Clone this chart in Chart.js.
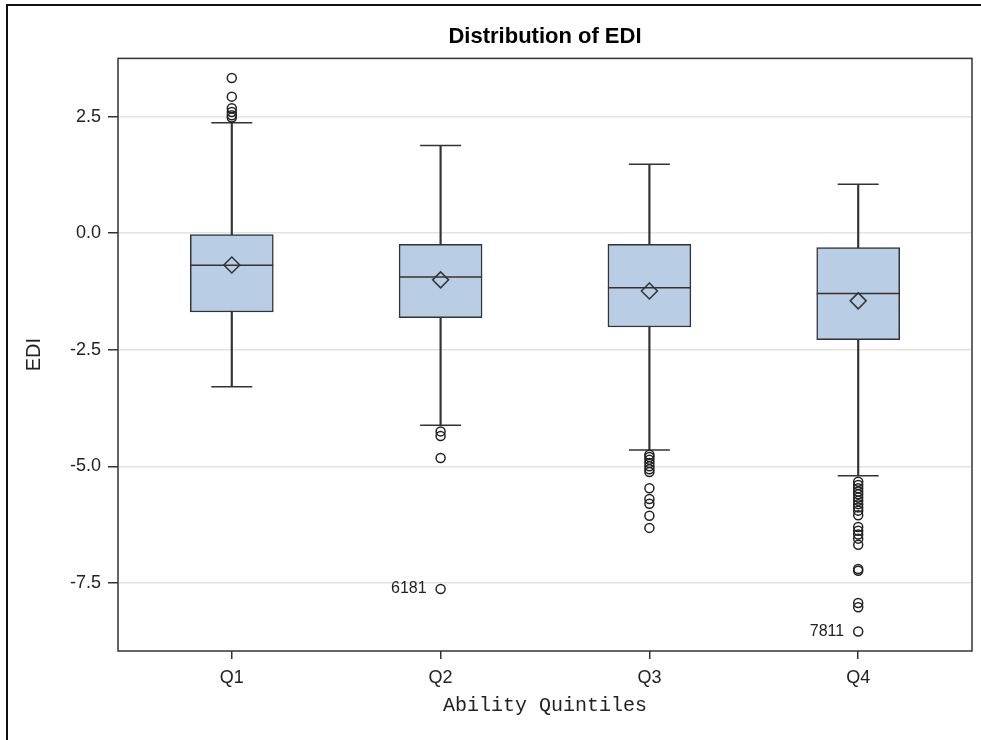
<!DOCTYPE html>
<html>
<head>
<meta charset="utf-8">
<script src="https://cdn.jsdelivr.net/npm/chart.js@4"></script>
<style>
  html, body { margin: 0; padding: 0; background: #fff; }
  #wrap { position: relative; width: 981px; height: 740px; overflow: hidden; }
  #frame { position: absolute; left: 6px; top: 4px; width: 2000px; height: 2000px;
           border-left: 2px solid #111; border-top: 2px solid #111; }
  canvas { position: absolute; left: 0; top: 0; }
</style>
</head>
<body>
<div id="wrap">
  <div id="frame"></div>
  <canvas id="myChart" width="981" height="740"></canvas>
</div>
<script>
const quintiles = ["Q1", "Q2", "Q3", "Q4"];

const whiskerLow  = [-3.29, -4.12, -4.65, -5.20];
const boxLow      = [-1.69, -1.81, -2.01, -2.28];
const medians     = [-0.685, -0.94, -1.17, -1.29];
const means       = [-0.68, -1.00, -1.24, -1.45];
const boxHigh     = [-0.03, -0.24, -0.24, -0.31];
const whiskerHigh = [2.37, 1.88, 1.48, 1.05];

const outliersQ1 = [3.33, 2.93, 2.68, 2.60, 2.53, 2.48];
const outliersQ2 = [-4.25, -4.35, -4.82, -7.63];
const outliersQ3 = [-4.75, -4.80, -4.86, -4.93, -5.00, -5.06, -5.12, -5.47, -5.70, -5.80, -6.06, -6.32];
const outliersQ4 = [-5.33, -5.40, -5.47, -5.54, -5.60, -5.67, -5.74, -5.81, -5.88, -5.95, -6.05,
                    -6.30, -6.38, -6.46, -6.55, -6.68, -7.20, -7.24, -7.93, -8.02, -8.54];

// labelled outliers (observation ids)
const labelQuint = [2, 4];
const labelValue = [-7.63, -8.54];
const labelText  = ["6181", "7811"];

const yTicks = [-7.5, -5.0, -2.5, 0.0, 2.5];

const font = 'Arial, "Liberation Sans", sans-serif';
const ink = '#333';
const boxFill = '#b9cde5';

const outlierPoints = [];
[outliersQ1, outliersQ2, outliersQ3, outliersQ4].forEach((arr, i) => {
  arr.forEach(v => outlierPoints.push({x: i + 1, y: v}));
});

const capPoints = [];
quintiles.forEach((q, i) => {
  capPoints.push({x: i + 1, y: whiskerLow[i]});
  capPoints.push({x: i + 1, y: whiskerHigh[i]});
});

const pointLabels = {
  id: 'pointLabels',
  afterDatasetsDraw(chart) {
    const {ctx, scales: {x, y}} = chart;
    ctx.save();
    ctx.font = '16px ' + font;
    ctx.fillStyle = '#222';
    ctx.textAlign = 'right';
    ctx.textBaseline = 'middle';
    labelText.forEach((t, i) => {
      ctx.fillText(t, x.getPixelForValue(labelQuint[i]) - 14, y.getPixelForValue(labelValue[i]));
    });
    ctx.restore();
  }
};

const plotFrame = {
  id: 'plotFrame',
  afterDraw(chart) {
    const {ctx, chartArea: a} = chart;
    ctx.save();
    ctx.strokeStyle = ink;
    ctx.lineWidth = 1.5;
    ctx.strokeRect(a.left, a.top, a.right - a.left, a.bottom - a.top);
    ctx.restore();
  }
};

const data = {
  datasets: [
    {
      type: 'bar',
      data: quintiles.map((q, i) => ({x: i + 1, y: [whiskerLow[i], whiskerHigh[i]]})),
      backgroundColor: ink,
      borderWidth: 0,
      barThickness: 1.5,
      grouped: false,
      order: 5
    },
    {
      type: 'bar',
      data: quintiles.map((q, i) => ({x: i + 1, y: [boxLow[i], boxHigh[i]]})),
      backgroundColor: boxFill,
      borderColor: ink,
      borderWidth: 1.5,
      borderSkipped: false,
      barThickness: 83,
      grouped: false,
      order: 4
    },
    {
      type: 'scatter',
      data: capPoints,
      pointStyle: 'line',
      pointRadius: 20.5,
      borderColor: ink,
      pointBorderWidth: 1.5,
      order: 3
    },
    {
      type: 'scatter',
      data: quintiles.map((q, i) => ({x: i + 1, y: medians[i]})),
      pointStyle: 'line',
      pointRadius: 41.5,
      borderColor: ink,
      pointBorderWidth: 1.5,
      order: 2
    },
    {
      type: 'scatter',
      data: quintiles.map((q, i) => ({x: i + 1, y: means[i]})),
      pointStyle: 'rectRot',
      pointRadius: 8,
      backgroundColor: 'rgba(0,0,0,0)',
      borderColor: ink,
      pointBorderWidth: 1.5,
      order: 1
    },
    {
      type: 'scatter',
      data: outlierPoints,
      pointStyle: 'circle',
      pointRadius: 4.5,
      backgroundColor: 'rgba(0,0,0,0)',
      borderColor: '#222',
      pointBorderWidth: 1.5,
      order: 1
    }
  ]
};

const config = {
  type: 'bar',
  data: data,
  plugins: [pointLabels, plotFrame],
  options: {
    responsive: false,
    animation: false,
    events: [],
    layout: { autoPadding: false, padding: { left: 0, right: 9, top: 0, bottom: 0 } },
    plugins: {
      legend: { display: false },
      tooltip: { enabled: false },
      title: {
        display: true,
        text: 'Distribution of EDI',
        fullSize: false,
        color: '#000',
        font: { family: font, size: 22, weight: 'bold' },
        padding: { top: 24, bottom: 8 }
      }
    },
    scales: {
      x: {
        type: 'linear',
        min: 0.455,
        max: 4.545,
        offset: false,
        afterFit: s => { s.height = 89; s.paddingLeft = 0; s.paddingRight = 0; },
        border: { display: false },
        grid: { offset: false, drawOnChartArea: false, tickLength: 8, tickColor: ink, lineWidth: 1.5 },
        ticks: {
          stepSize: 1,
          includeBounds: false,
          padding: 8,
          color: '#222',
          font: { family: font, size: 18 },
          callback: v => quintiles[v - 1] || ''
        },
        title: {
          display: true,
          text: 'Ability Quintiles',
          color: '#222',
          font: { family: '"Liberation Mono", monospace', size: 20 },
          padding: { top: 0, bottom: 22 }
        }
      },
      y: {
        type: 'linear',
        min: -8.96,
        max: 3.75,
        afterFit: s => { s.width = 118; s.paddingTop = 0; s.paddingBottom = 0; },
        afterBuildTicks: s => { s.ticks = yTicks.map(v => ({value: v})); },
        border: { display: false },
        grid: { color: '#e3e3e3', lineWidth: 1.5, tickLength: 10, tickColor: ink },
        ticks: {
          padding: 7,
          color: '#222',
          font: { family: font, size: 18 },
          callback: v => v.toFixed(1)
        },
        title: {
          display: true,
          text: 'EDI',
          color: '#222',
          font: { family: font, size: 20 },
          padding: { top: 22 }
        }
      }
    }
  }
};

const myChart = new Chart(document.getElementById('myChart'), config);
</script>
</body>
</html>
